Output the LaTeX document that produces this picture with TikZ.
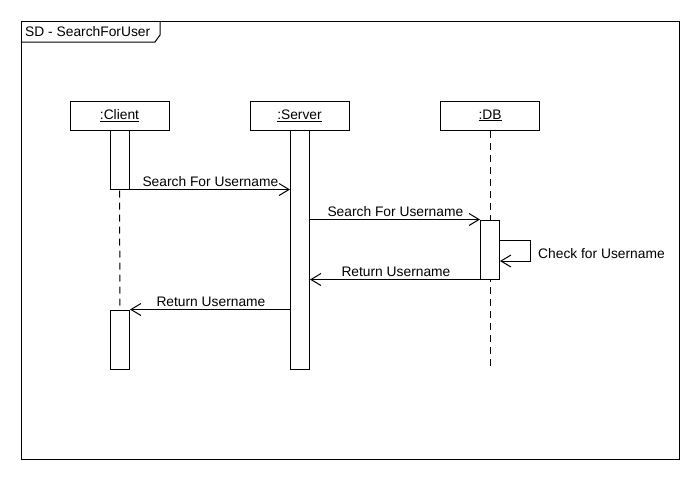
\documentclass[tikz,border=0pt]{standalone}
\usepackage{fontspec}
\setmainfont{Liberation Sans}
\usetikzlibrary{arrows.meta}
\tikzset{
  every node/.style={font=\fontsize{13.8}{16}\selectfont},
  head/.style={draw, line width=1pt, fill=white, minimum width=99pt, minimum height=29pt, inner sep=0pt},
  act/.style={draw, line width=1pt, fill=white, minimum width=19pt, inner sep=0pt},
  life/.style={line width=1pt, dash pattern=on 7pt off 5pt},
  msg/.style={line width=1pt, -{Straight Barb[length=10pt,width=12pt,line width=1pt]}},
  lbl/.style={inner sep=0pt, anchor=base west}
}
\begin{document}
\begin{tikzpicture}[x=1pt,y=-1pt]
\useasboundingbox (0,0) rectangle (700,480);
% frame
\draw[line width=1pt] (21,21) rectangle (679,459);
\draw[line width=1pt] (21,42) -- (155,42) -- (160,35) -- (160,21);
\node[lbl] (title) at (25,36.5) {SD - SearchForUser};
% heads
\node[head] (client) at (119.5,115.5) {\underline{:Client}};
\node[head] (server) at (299.5,115.5) {\underline{:Server}};
\node[head] (db) at (490,115.5) {\underline{:DB}};
% lifelines
\coordinate (cend) at (120,369);
\coordinate (send) at (300,369);
\coordinate (dend) at (490,366);
\draw[life] (client.south) -- (cend);
\draw[life] (db.south) -- (dend);
% activations
\node[act, minimum height=59pt] (ca1) at (120,159.5) {};
\node[act, minimum height=239pt] (sa) at (300,249.5) {};
\node[act, minimum height=59pt] (da) at (490,249.5) {};
\node[act, minimum height=59pt] (ca2) at (120,339.5) {};
% messages
\draw[msg] (ca1.south east) -- (sa.west |- ca1.south east)
  node[lbl] (m1) at (142,186) {Search For Username};
\draw[msg] (sa.east |- da.north west) -- (da.north west)
  node[lbl] (m2) at (327,216) {Search For Username};
\coordinate (s1) at (da.east |- 0,240);
\coordinate (s2) at (530,240);
\coordinate (s3) at (530,261);
\coordinate (s4) at (da.east |- 0,261);
\draw[msg] (s1) -- (s2) -- (s3) -- (s4);
\node[lbl] (m3) at (538,258) {Check for Username};
\draw[msg] (da.south west) -- (sa.east |- da.south west)
  node[lbl] (m4) at (341,276) {Return Username};
\draw[msg] (sa.west |- ca2.north east) -- (ca2.north east)
  node[lbl] (m5) at (156,306) {Return Username};
\end{tikzpicture}
\end{document}
